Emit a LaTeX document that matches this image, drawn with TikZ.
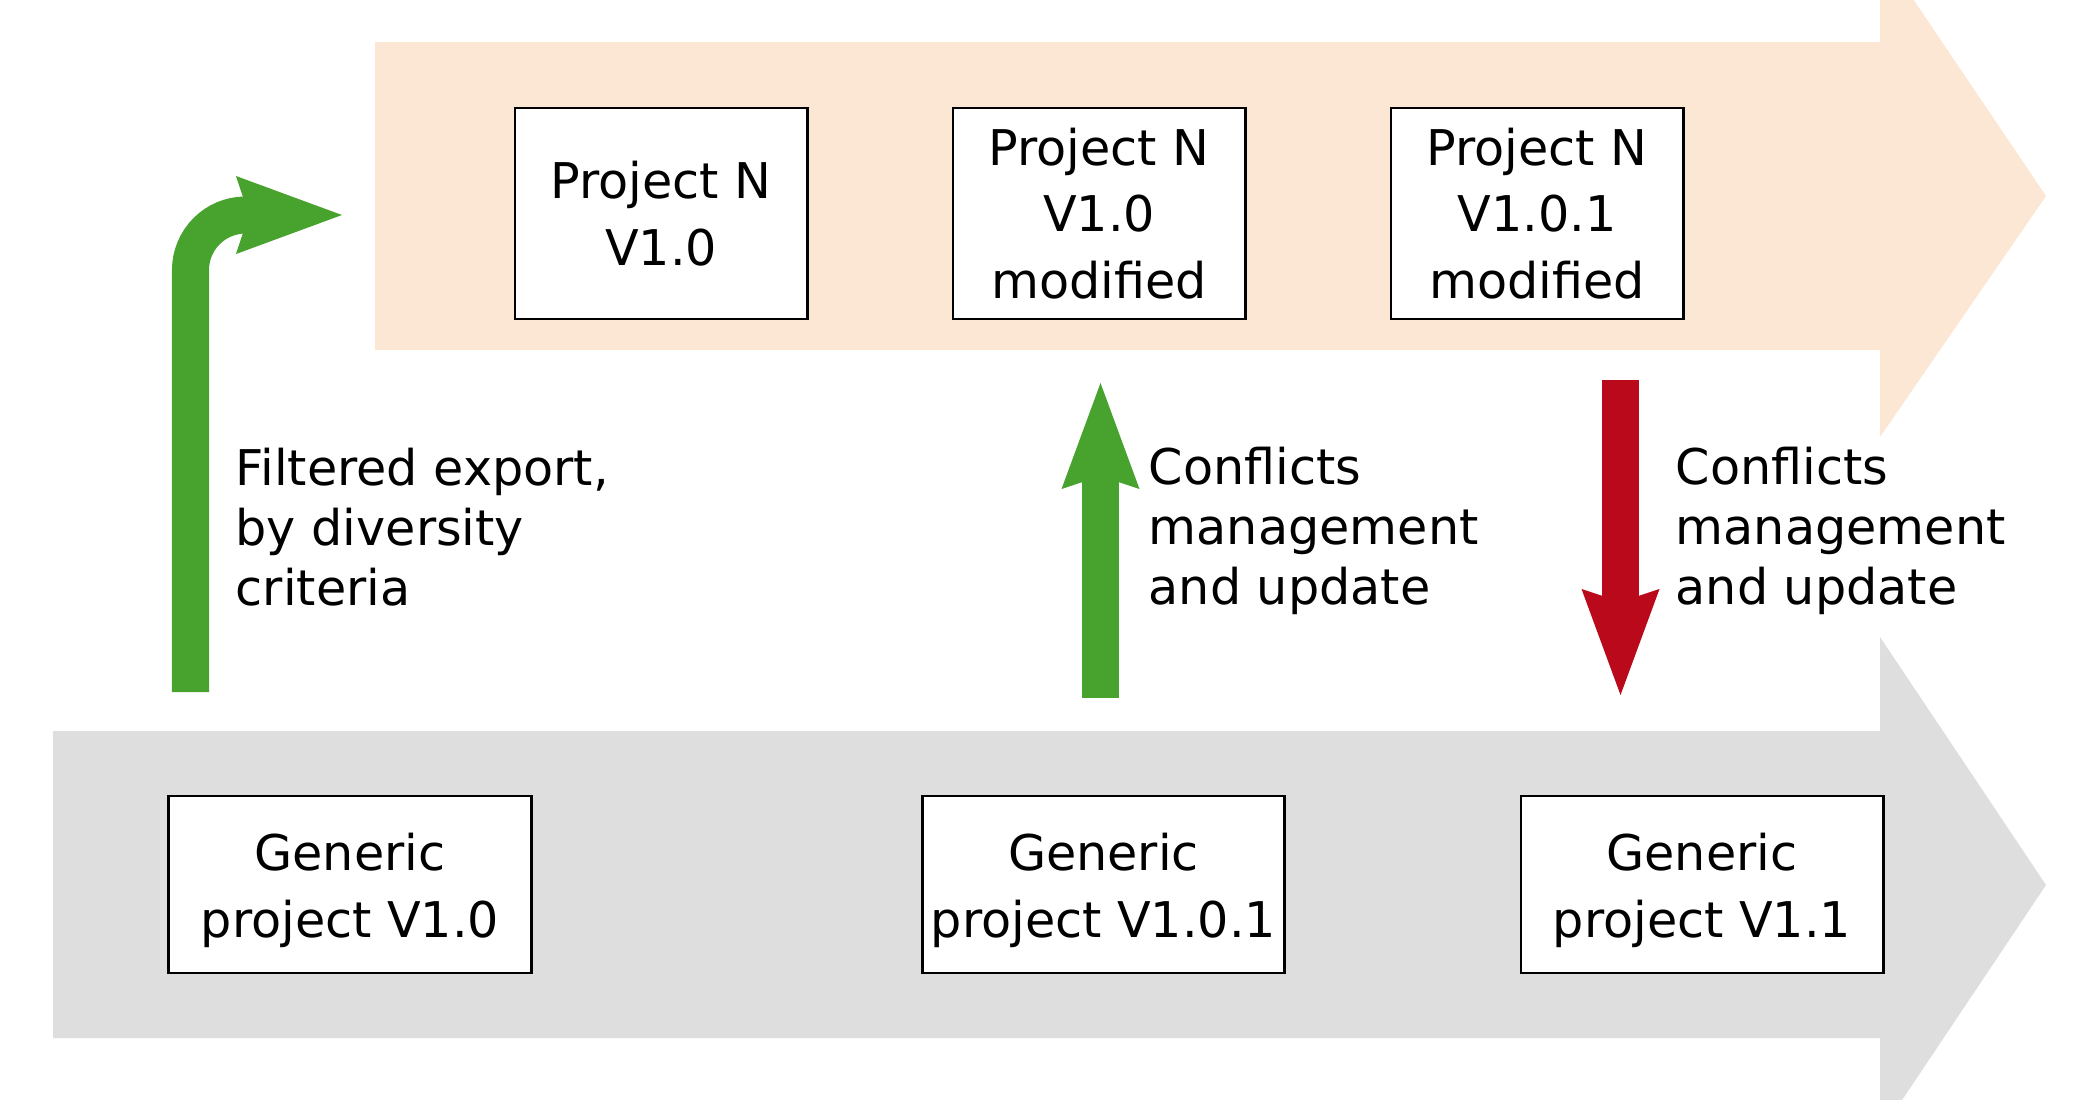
\documentclass[tikz,border=0pt]{standalone}
\usepackage{fontspec}
\setmainfont{DejaVu Sans}
\usepackage{tikz}
\usetikzlibrary{arrows.meta,positioning,calc}
\definecolor{mygreen}{RGB}{72,162,46}
\definecolor{myred}{RGB}{185,9,26}
\definecolor{mypeach}{RGB}{252,231,213}
\definecolor{mygrey}{RGB}{222,222,222}

\begin{document}
\begin{tikzpicture}[
  x=0.01cm, y=-0.01cm,
  font=\fontsize{14pt}{19pt}\selectfont,
  mybox/.style={
    draw,
    line width=0.8pt,
    fill=white,
    align=center,
    inner sep=0pt,
    minimum width=#1
    },
  topbox/.style={mybox=2.92cm, minimum height=2.11cm},
  genbox/.style={mybox=3.62cm, minimum height=1.77cm},
  mylabel/.style={
    anchor=west,
    align=left,
    inner sep=0pt,
    font=\fontsize{14pt}{17pt}\selectfont
    },
  fatarrow/.style={
    line width=0.37cm,
    -{Stealth[length=1.06cm, width=0.78cm, inset=0.13cm, line width=0pt]}
  }
]
\useasboundingbox (0,0) rectangle (2091,1099);
\clip (0,0) rectangle (2091,1099);

% the two big timeline arrows
\fill[mypeach] (375,42) -- (1880,42) -- (1880,-50) -- (2046,196)
  -- (1880,437) -- (1880,350) -- (375,350) -- cycle;
\fill[mygrey] (53,731) -- (1880,731) -- (1880,637) -- (2046,885)
  -- (1880,1133) -- (1880,1038) -- (53,1038) -- cycle;

% project N versions
\node[topbox] (pn10) at (661,213.5) {Project N\\V1.0};
\node[topbox, right=1.43cm of pn10] (pn10mod) {Project N\\V1.0\\modified};
\node[topbox, right=1.43cm of pn10mod] (pn101mod) {Project N\\V1.0.1\\modified};

% generic versions
\node[genbox] (gen10) at (350,884.5) {\rule{0pt}{14pt}Generic\\project V1.0};
\node[genbox] (gen101) at (1103.5,884.5) {\rule{0pt}{14pt}Generic\\project V1.0.1};
\node[genbox] (gen11) at (1702,884.5) {\rule{0pt}{14pt}Generic\\project V1.1};

% arrows between the lines
\coordinate (exportstart) at (190.5,692);
\coordinate (exportend) at (342,215);
\coordinate (upstart) at (1100.5,698);
\coordinate (upend) at (1100.5,383);
\coordinate (downstart) at (1620.5,380);
\coordinate (downend) at (1620.5,695);

\draw[fatarrow, mygreen, rounded corners=0.55cm] (exportstart) |- (exportend);
\draw[fatarrow, mygreen] (upstart) -- (upend);
\draw[fatarrow, myred] (downstart) -- (downend);

\node[mylabel] (exportlbl) at (235,527) {Filtered export,\\by diversity\\criteria};
\node[mylabel] (uplbl) at (1148,531) {Conflicts\\management\\and update};
\node[mylabel] (downlbl) at (1675,531) {Conflicts\\management\\and update};

\end{tikzpicture}
\end{document}
